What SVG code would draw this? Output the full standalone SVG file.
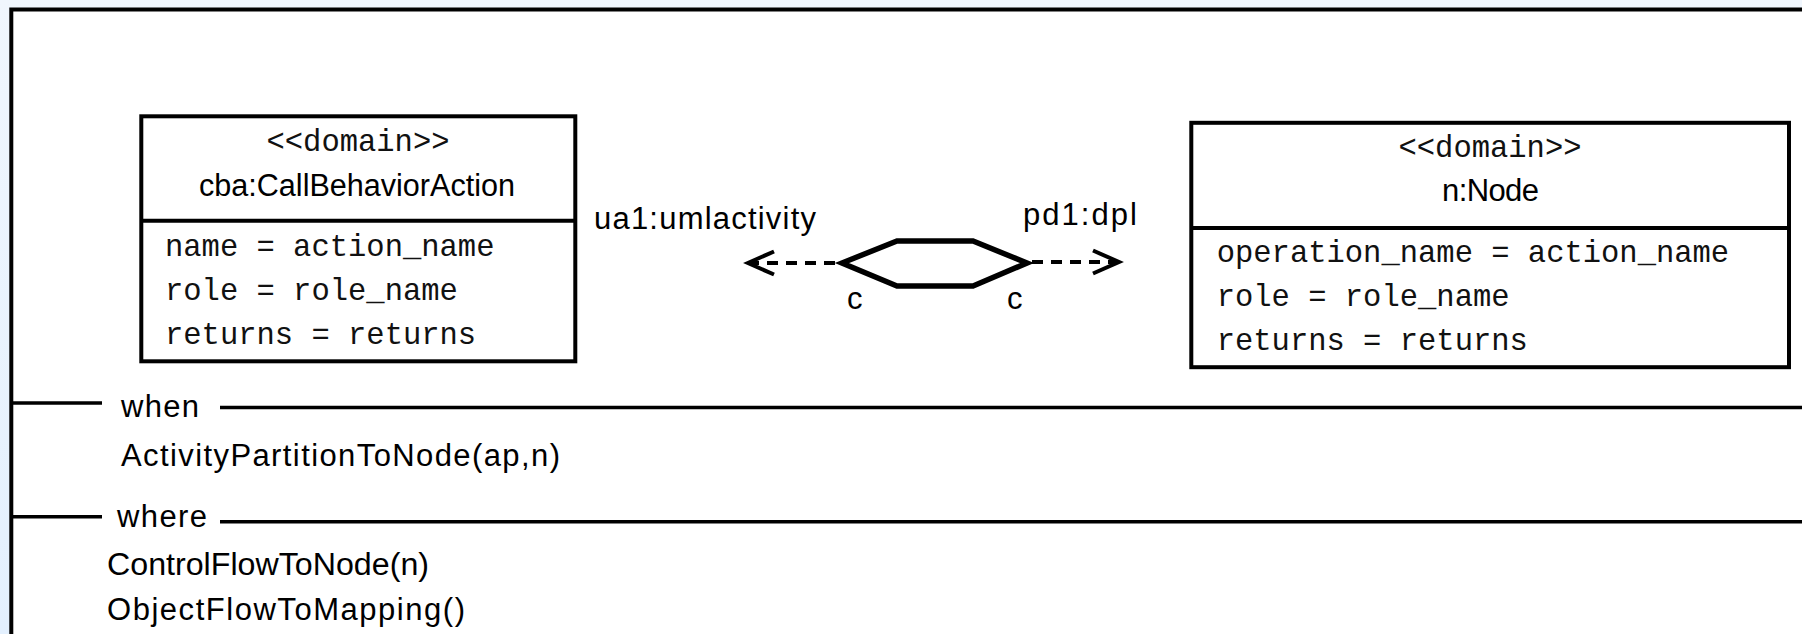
<svg xmlns="http://www.w3.org/2000/svg" width="1802" height="634" viewBox="0 0 1802 634">
  <defs>
    <linearGradient id="bg" x1="0" y1="0" x2="0" y2="1">
      <stop offset="0" stop-color="#F0F6FD"/>
      <stop offset="1" stop-color="#E3F0FE"/>
    </linearGradient>
    <marker id="open" markerUnits="userSpaceOnUse" orient="auto-start-reverse" refX="0" refY="0" markerWidth="40" markerHeight="40" overflow="visible">
      <path d="M -26 -11.5 L 0 0 L -26 11.5" fill="none" stroke="#000" stroke-width="4"/>
    </marker>
    <style>
      .box { fill: #fff; stroke: #000; stroke-width: 4; }
      .div { stroke: #000; stroke-width: 4; }
      .sep { stroke: #000; stroke-width: 3.5; fill: none; }
      .mono { font-family: "Liberation Mono", "Courier New", monospace; font-size: 30.5px; fill: #111; }
      .sans { font-family: "Liberation Sans", Arial, sans-serif; font-size: 31px; fill: #000; }
      .dash { stroke: #000; stroke-width: 4; stroke-dasharray: 11 8; fill: none; }
      .hex { fill: #fff; stroke: #000; stroke-width: 5.5; stroke-linejoin: miter; }
    </style>
  </defs>

  <rect x="0" y="0" width="1802" height="634" fill="url(#bg)"/>
  <rect id="frame" x="11.3" y="9.5" width="1800" height="640" fill="#fff" stroke="#000" stroke-width="4"/>

  <g id="cba">
    <rect class="box" x="141.3" y="116.3" width="434" height="245"/>
    <line class="div" x1="141.3" y1="220.7" x2="575.3" y2="220.7"/>
    <text class="mono" x="358" y="151" text-anchor="middle">&lt;&lt;domain&gt;&gt;</text>
    <text class="sans" x="199" y="196" textLength="316" lengthAdjust="spacingAndGlyphs">cba:CallBehaviorAction</text>
    <text class="mono" x="165" y="256">name = action_name</text>
    <text class="mono" x="165" y="300">role = role_name</text>
    <text class="mono" x="165" y="344">returns = returns</text>
  </g>

  <g id="n">
    <rect class="box" x="1191.3" y="122.8" width="597.7" height="244.4"/>
    <line class="div" x1="1191.3" y1="228" x2="1789" y2="228"/>
    <text class="mono" x="1490" y="157" text-anchor="middle">&lt;&lt;domain&gt;&gt;</text>
    <text class="sans" x="1442" y="201" textLength="97">n:Node</text>
    <text class="mono" x="1216.7" y="262">operation_name = action_name</text>
    <text class="mono" x="1216.7" y="306">role = role_name</text>
    <text class="mono" x="1216.7" y="350">returns = returns</text>
  </g>

  <g id="relation">
    <polygon class="hex" points="842,263 897,241 973,241 1027,263 973,286 897,286"/>
  </g>

  <g id="connectors">
    <g id="ua1">
      <line class="dash" x1="748" y1="263" x2="842" y2="263" marker-start="url(#open)"/>
      <text class="sans" x="594" y="229" textLength="222">ua1:umlactivity</text>
      <text class="sans" x="847" y="309">c</text>
    </g>
    <g id="pd1">
      <line class="dash" x1="1119" y1="262" x2="1027" y2="262" marker-start="url(#open)"/>
      <text class="sans" x="1023" y="225" textLength="114">pd1:dpl</text>
      <text class="sans" x="1007" y="309">c</text>
    </g>
  </g>

  <g id="when">
    <line class="sep" x1="11" y1="403" x2="102" y2="403"/>
    <line class="sep" x1="220" y1="407.5" x2="1802" y2="407.5"/>
    <text class="sans" x="121" y="417" textLength="78">when</text>
    <text class="sans" x="121" y="466" textLength="439">ActivityPartitionToNode(ap,n)</text>
  </g>

  <g id="where">
    <line class="sep" x1="11" y1="516.7" x2="102" y2="516.7"/>
    <line class="sep" x1="220" y1="521.7" x2="1802" y2="521.7"/>
    <text class="sans" x="117" y="527" textLength="90">where</text>
    <text class="sans" x="107" y="575" textLength="322" lengthAdjust="spacingAndGlyphs">ControlFlowToNode(n)</text>
    <text class="sans" x="107" y="620" textLength="358">ObjectFlowToMapping()</text>
  </g>
</svg>
